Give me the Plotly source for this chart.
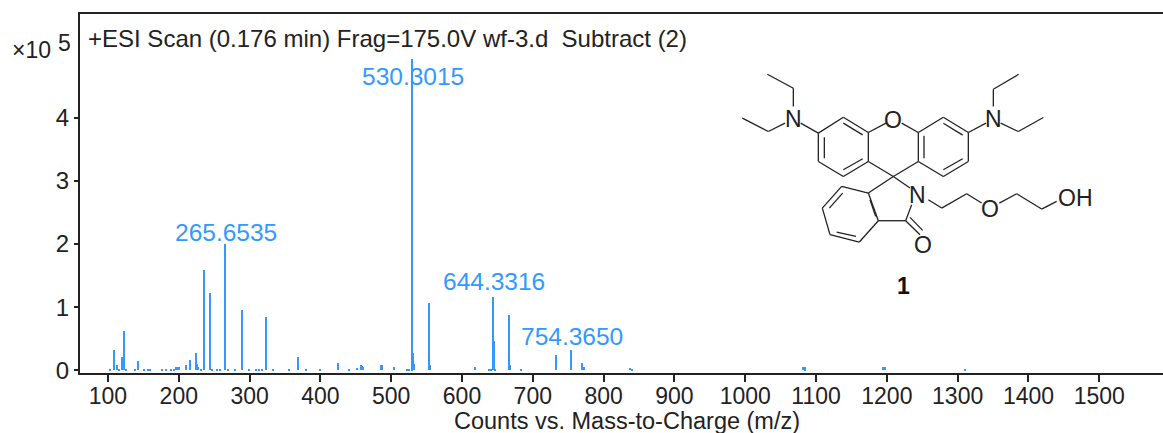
import plotly.graph_objects as go

# m/z peaks and heights (x10^5 counts)
mz = [103,108.5,113.5,116,119.8,121,122.6,126,139,142,151,157,160,176,182,190,193,197,199,201,210,216,224,226,228,231,
      236,244,247,254,258,265.65,270,279,290,300,310,314,318,323,333,356,369,380,400,425,440,452,457,459,461,486,
      488,504,522,526,529,530.3,531.3,532,553,555,618,638,641,643.5,645,647,666,668,683,733.7,754.4,769.8,772,838,841,
      1082,1084,1085,1195,1196,1197,1310]
height = [.03,.32,.09,.03,.22,.2,.63,.03,.03,.15,.02,.02,.02,.02,.02,.02,.03,.05,.05,.05,.09,.16,.28,.1,.06,.03,
          1.59,1.23,.03,.03,.03,2.0,.03,.02,.95,.02,.02,.02,.02,.85,.02,.02,.22,.02,.02,.12,.02,.04,.09,.07,.05,.09,
          .09,.05,.03,.03,.03,4.93,.28,.1,1.07,.08,.05,.02,.03,1.17,.47,.03,.88,.08,.02,.25,.32,.12,.05,.04,.02,
          .06,.05,.03,.05,.05,.05,.015]

peak_labels = ["530.3015", "265.6535", "644.3316", "754.3650"]
peak_label_mz = [530.3, 266.5, 645, 755]
peak_label_h = [4.93, 2.0, 1.17, 0.32]
peak_label_shift = [-18, 12, 15, 14]

x_ticks = list(range(100, 1600, 100))
y_ticks = [0, 1, 2, 3, 4]
title_text = "+ESI Scan (0.176 min) Frag=175.0V wf-3.d  Subtract (2)"
x_title = "Counts vs. Mass-to-Charge (m/z)"

BLUE = "#3399ff"
INK = "#222222"
FONT = "Liberation Sans, Arial, sans-serif"

# Structure drawing (zoomed reference coords, ref px = z/3 + offset)
bond_paths = [
    [(112,43),(190,85),(190,140)], [(37,175),(115,215),(165,190)], [(212,190),(265,220)],
    [(265,220),(340,172),(415,218),(415,305),(340,350),(265,305),(265,220)],
    [(340,190),(398,225)], [(283,232),(283,295)], [(340,330),(398,297)],
    [(415,218),(468,190)], [(515,190),(565,218)],
    [(565,218),(640,172),(715,218),(715,305),(640,350),(565,305),(565,218)],
    [(582,228),(582,295)], [(640,190),(698,226)], [(640,330),(698,297)],
    [(415,305),(490,350),(565,305)], [(490,350),(415,400)], [(490,350),(540,385)],
    [(415,400),(335,380),(277,445),(300,525),(388,547),(445,483),(415,400)],
    [(338,400),(298,445)], [(320,517),(378,530)], [(420,420),(437,470)],
    [(445,483),(527,483)], [(527,483),(545,435)], [(527,483),(570,525)], [(540,473),(578,512)],
    [(595,420),(635,445),(710,402),(755,430)], [(808,430),(860,402),(935,448),(980,425)],
    [(715,218),(768,190)], [(790,140),(790,88),(866,43)], [(812,190),(865,215),(940,173)],
]
atoms = [("N",190,178),("O",490,180),("N",790,178),("N",562,407),("O",780,447),("O",580,557),("OH",1035,414)]
compound_label = ("1", 520, 680)

L, R, T, B = 80, 1163, 14, 373.5
W, H = 1163, 433
def px(zx): return ((730 + zx/3) - L) / (R - L)
def py(zy): return 1 - ((60 + zy/3) - T) / (B - T)

shapes = []
for path in bond_paths:
    for (a, b), (c, d) in zip(path[:-1], path[1:]):
        shapes.append(dict(type="line", xref="paper", yref="paper", x0=px(a), y0=py(b), x1=px(c), y1=py(d),
                           line=dict(color=INK, width=1.3), layer="above"))

annotations = []
for t, m, h, s in zip(peak_labels, peak_label_mz, peak_label_h, peak_label_shift):
    annotations.append(dict(text=t, x=m, y=h, xref="x", yref="y", yanchor="middle", xanchor="center", yshift=s,
                            showarrow=False, font=dict(color=BLUE, size=24.5, family=FONT)))
for t, zx, zy in atoms:
    annotations.append(dict(text=t, x=px(zx), y=py(zy), xref="paper", yref="paper", xanchor="center", yanchor="middle",
                            showarrow=False, font=dict(color=INK, size=23, family=FONT)))
annotations.append(dict(text="<b>%s</b>" % compound_label[0], x=px(compound_label[1]), y=py(compound_label[2]),
                        xref="paper", yref="paper", xanchor="center", yanchor="middle", showarrow=False,
                        font=dict(color="#111", size=23, family=FONT)))
annotations.append(dict(text=title_text, x=(86-L)/(R-L), y=1-(39-T)/(B-T), xref="paper", yref="paper", xanchor="left",
                        yanchor="middle", showarrow=False, font=dict(color=INK, size=24, family=FONT)))
annotations.append(dict(text="\u00d710", x=(10-L)/(R-L), y=1-(50-T)/(B-T), xref="paper", yref="paper", xanchor="left",
                        yanchor="middle", showarrow=False, font=dict(color=INK, size=23, family=FONT)))
annotations.append(dict(text="5", x=(56-L)/(R-L), y=1-(43-T)/(B-T), xref="paper", yref="paper", xanchor="left",
                        yanchor="middle", showarrow=False, font=dict(color=INK, size=23, family=FONT)))
annotations.append(dict(text=x_title, x=(626.5-L)/(R-L), y=1-(421.5-T)/(B-T), xref="paper", yref="paper", xanchor="center",
                        yanchor="middle", showarrow=False, font=dict(color=INK, size=23.5, family=FONT)))

fig = go.Figure(go.Bar(x=mz, y=height, width=2.0, marker=dict(color=BLUE, line=dict(width=0))))
fig.update_layout(
    width=W, height=H, autosize=False, showlegend=False, bargap=0,
    paper_bgcolor="white", plot_bgcolor="white",
    margin=dict(l=L, r=W-R, t=T, b=H-B, pad=0),
    font=dict(family=FONT, color=INK, size=24),
    shapes=shapes, annotations=annotations,
    xaxis=dict(range=[60.5, 1590], tickmode="array", tickvals=x_ticks, ticks="outside", ticklen=7, tickwidth=2,
               tickcolor=INK, showline=True, linecolor=INK, linewidth=2, mirror=True, showgrid=False, zeroline=False,
               tickfont=dict(size=23), ticklabelstandoff=-6),
    yaxis=dict(range=[-0.04, 5.64], tickmode="array", tickvals=y_ticks, ticks="outside", ticklen=4, tickwidth=2,
               tickcolor=INK, showline=True, linecolor=INK, linewidth=2, showgrid=False, zeroline=False,
               tickfont=dict(size=24)),
)
fig.write_html("out.html", post_script="document.body.style.margin='0';", config=dict(displayModeBar=False))
